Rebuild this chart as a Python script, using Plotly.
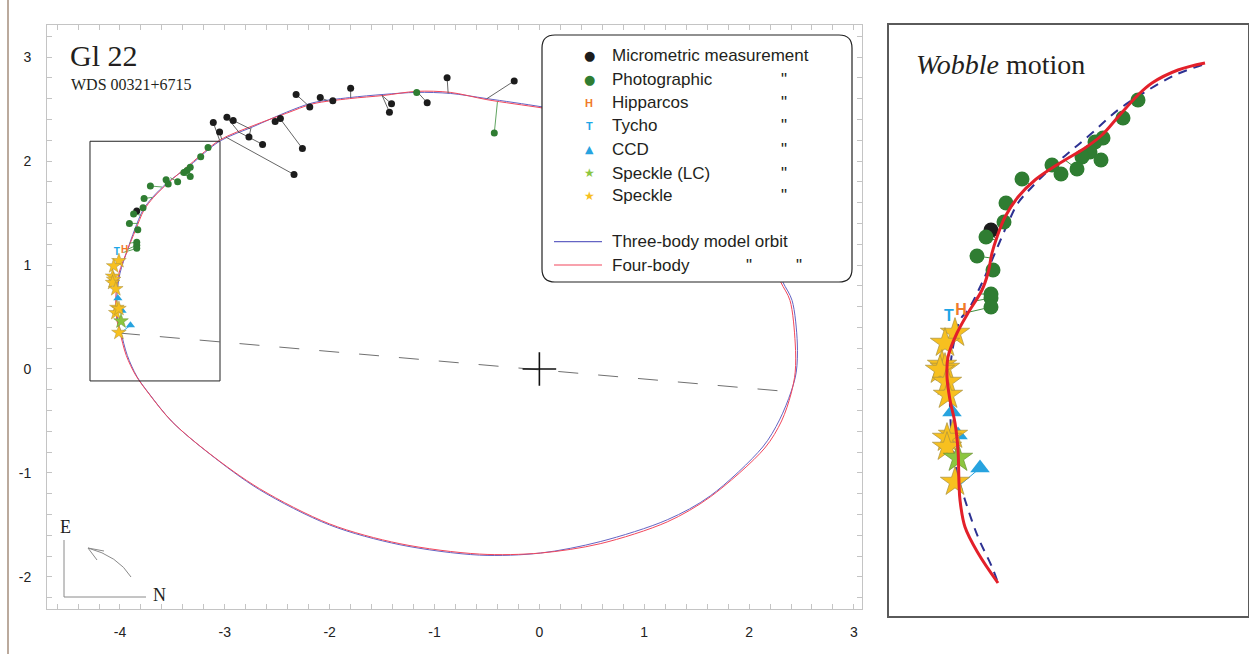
import plotly.graph_objects as go

W, H = 1249, 654


def PX(p):
    return p / W


def PY(p):
    return 1 - p / H


# ---------------- main panel data (arcsec) ----------------
orbit3_x = [-3.99, -4.02, -4.03, -4.00, -3.93, -3.86, -3.78, -3.69, -3.55, -3.33, -3.05, -2.73, -2.41,
            -2.16, -1.81, -1.49, -1.17, -0.85, -0.50, 0.03, 0.58, 1.06, 1.53, 1.91, 2.15, 2.32, 2.41,
            2.46, 2.45, 2.40, 2.29, 2.13, 1.63, 1.22, 0.58, 0.01, -0.57, -1.33, -2.00, -2.67, -3.14,
            -3.50, -3.72, -3.84, -3.93, -3.99]
orbit3_y = [0.35, 0.47, 0.69, 0.92, 1.14, 1.34, 1.53, 1.65, 1.79, 1.96, 2.19, 2.33, 2.47, 2.56, 2.61,
            2.64, 2.66, 2.65, 2.60, 2.52, 2.42, 2.28, 2.01, 1.63, 1.24, 0.84, 0.66, 0.25, -0.03, -0.22,
            -0.49, -0.75, -1.22, -1.45, -1.66, -1.77, -1.79, -1.69, -1.50, -1.16, -0.82, -0.51, -0.24,
            -0.07, 0.13, 0.35]
orbit4_x = [-4.00, -4.03, -4.04, -4.01, -3.93, -3.85, -3.77, -3.68, -3.54, -3.33, -3.05, -2.73, -2.41,
            -2.16, -1.81, -1.49, -1.17, -0.85, -0.50, 0.03, 0.58, 1.06, 1.53, 1.91, 2.14, 2.30, 2.39,
            2.44, 2.44, 2.40, 2.31, 2.15, 1.63, 1.22, 0.58, 0.01, -0.57, -1.33, -2.00, -2.67, -3.15,
            -3.51, -3.73, -3.85, -3.94, -4.00]
orbit4_y = [0.35, 0.47, 0.69, 0.92, 1.14, 1.34, 1.53, 1.65, 1.79, 1.97, 2.20, 2.34, 2.46, 2.55, 2.60,
            2.63, 2.67, 2.66, 2.59, 2.51, 2.42, 2.28, 2.01, 1.63, 1.24, 0.84, 0.66, 0.25, -0.03, -0.24,
            -0.50, -0.76, -1.23, -1.47, -1.68, -1.77, -1.78, -1.68, -1.49, -1.15, -0.81, -0.50, -0.23,
            -0.06, 0.13, 0.35]

apsides_x = [-4.00, 2.40]
apsides_y = [0.345, -0.22]
primary_x = [0.0]
primary_y = [0.0]
zoom_box = dict(x0=-4.286, x1=-3.046, y0=-0.115, y1=2.19)

micro_x = [-3.11, -3.05, -2.98, -2.92, -2.77, -2.64, -2.52, -2.47, -2.26, -2.34, -2.32, -2.19, -2.09,
           -1.97, -1.80, -1.41, -1.43, -1.07, -0.88, -0.24, -3.84]
micro_y = [2.37, 2.28, 2.42, 2.39, 2.23, 2.16, 2.38, 2.41, 2.12, 1.87, 2.64, 2.52, 2.61, 2.58, 2.70,
           2.55, 2.47, 2.56, 2.80, 2.77, 1.52]
micro_cx = [-3.05, -3.03, -2.86, -2.76, -2.75, -2.87, -2.52, -2.48, -2.49, -2.99, -2.20, -2.19, -2.02,
            -1.96, -1.80, -1.50, -1.50, -1.16, -0.87, -0.50, -3.81]
micro_cy = [2.20, 2.21, 2.27, 2.31, 2.32, 2.28, 2.41, 2.43, 2.43, 2.23, 2.53, 2.53, 2.58, 2.59, 2.61,
            2.63, 2.63, 2.66, 2.65, 2.60, 1.51]

photo_x = [-3.16, -3.23, -3.33, -3.36, -3.39, -3.45, -3.33, -3.54, -3.56, -3.71, -3.77, -3.78, -3.87,
           -3.91, -3.83, -3.84, -3.84, -3.84, -1.17, -0.43]
photo_y = [2.13, 2.04, 1.94, 1.91, 1.89, 1.80, 1.85, 1.78, 1.82, 1.76, 1.64, 1.55, 1.49, 1.40, 1.34,
           1.22, 1.19, 1.16, 2.66, 2.27]
photo_cx = [-3.14, -3.24, -3.35, -3.38, -3.42, -3.52, -3.43, -3.56, -3.54, -3.60, -3.69, -3.76, -3.80,
            -3.83, -3.86, -3.91, -3.93, -3.97, -1.17, -0.40]
photo_cy = [2.13, 2.03, 1.94, 1.91, 1.89, 1.84, 1.88, 1.80, 1.81, 1.75, 1.65, 1.56, 1.48, 1.40, 1.34,
            1.21, 1.15, 1.12, 2.66, 2.57]

hipp_x, hipp_y = [-3.955], [1.14]
tycho_x, tycho_y = [-4.03], [1.12]

ccd_x = [-4.02, -3.98, -3.90]
ccd_y = [0.68, 0.56, 0.42]
ccd_cx = [-4.02, -3.99, -3.99]
ccd_cy = [0.68, 0.56, 0.35]

speckle_lc_x, speckle_lc_y = [-3.99], [0.46]
speckle_x = [-4.01, -4.06, -4.07, -4.06, -4.07, -4.04, -4.03, -4.04, -4.01, -4.01]
speckle_y = [1.04, 0.99, 0.89, 0.86, 0.83, 0.77, 0.59, 0.54, 0.58, 0.35]

x_ticks = [-4, -3, -2, -1, 0, 1, 2, 3]
x_tick_labels = ["-4", "-3", "-2", "-1", "0", "1", "2", "3"]
y_ticks = [-2, -1, 0, 1, 2, 3]
y_tick_labels = ["-2", "-1", "0", "1", "2", "3"]

# ---------------- wobble panel data (magnified units) ----------------
wob4_x = [3.16, 2.89, 2.63, 2.49, 2.29, 2.13, 1.96, 1.76, 1.63, 1.46, 1.29, 1.16, 1.08, 1.03, 0.99,
          0.93, 0.79, 0.68, 0.59, 0.58, 0.61, 0.66, 0.69, 0.70, 0.71, 0.76, 0.89, 1.09]
wob4_y = [5.53, 5.46, 5.33, 5.21, 4.99, 4.81, 4.68, 4.56, 4.48, 4.36, 4.19, 3.99, 3.79, 3.63, 3.43,
          3.26, 3.03, 2.83, 2.59, 2.39, 2.16, 1.93, 1.66, 1.33, 1.16, 0.89, 0.63, 0.33]
wob3_x = [3.13, 2.86, 2.56, 2.29, 2.03, 1.83, 1.63, 1.43, 1.29, 1.19, 1.06, 0.93, 0.79, 0.71, 0.64,
          0.61, 0.61, 0.63, 0.68, 0.76, 0.89, 1.03, 1.08]
wob3_y = [5.51, 5.41, 5.24, 5.06, 4.83, 4.66, 4.49, 4.29, 4.13, 3.93, 3.63, 3.33, 3.06, 2.96, 2.69,
          2.43, 2.09, 1.76, 1.43, 1.16, 0.79, 0.49, 0.36]

wob_photo_x = [2.49, 2.34, 2.14, 2.06, 2.01, 1.93, 2.12, 1.88, 1.72, 1.63, 1.33, 1.17, 1.15, 0.97,
               0.88, 1.04, 1.02, 1.02, 1.02]
wob_photo_y = [5.16, 4.98, 4.78, 4.74, 4.64, 4.59, 4.56, 4.47, 4.42, 4.51, 4.37, 4.13, 3.94, 3.79,
               3.60, 3.46, 3.22, 3.18, 3.09]
wob_photo_cx = [2.49, 2.30, 2.13, 2.00, 1.93, 1.86, 1.96, 1.76, 1.63, 1.60, 1.40, 1.22, 1.10, 1.06,
                1.02, 0.99, 0.90, 0.86, 0.76]
wob_photo_cy = [5.21, 5.00, 4.81, 4.71, 4.64, 4.60, 4.68, 4.56, 4.48, 4.46, 4.32, 4.10, 3.90, 3.76,
                3.58, 3.43, 3.22, 3.15, 3.03]
wob_micro_x, wob_micro_y = [1.02], [3.86]
wob_micro_cx, wob_micro_cy = [1.06], [3.78]
wob_hipp_x, wob_hipp_y = [0.72], [3.05]
wob_tycho_x, wob_tycho_y = [0.60], [2.99]
wob_ccd_x = [0.63, 0.69, 0.91]
wob_ccd_y = [2.04, 1.81, 1.48]
wob_ccd_cx = [0.63, 0.69, 0.71]
wob_ccd_cy = [2.04, 1.81, 1.31]
wob_lc_x, wob_lc_y = [0.69], [1.58]
wob_speckle_x = [0.66, 0.56, 0.53, 0.56, 0.51, 0.58, 0.59, 0.64, 0.58, 0.58, 0.66]
wob_speckle_y = [2.83, 2.73, 2.51, 2.48, 2.46, 2.34, 2.21, 1.81, 1.78, 1.69, 1.34]

# ---------------- colours ----------------
C_BLACK = "#1c1c1c"
C_GREEN = "#2f7d32"
C_HIPP = "#f07a2a"
C_TYCHO = "#1ea6e6"
C_CCD = "#27a3df"
C_LC = "#8cc63f"
C_SPK = "#f7c01f"
C_BLUE = "#6464c4"
C_RED = "#f2475c"
C_TEXT = "#231f20"


def segments(ox, oy, cx, cy):
    xs, ys = [], []
    for a, b, c, d in zip(ox, oy, cx, cy):
        xs += [a, c, None]
        ys += [b, d, None]
    return xs, ys


fig = go.Figure()

# ---- main panel ----
fig.add_trace(go.Scatter(x=orbit3_x, y=orbit3_y, mode="lines", name="Three-body model orbit",
                         line=dict(color=C_BLUE, width=1, shape="spline", smoothing=0.9)))
fig.add_trace(go.Scatter(x=orbit4_x, y=orbit4_y, mode="lines", name="Four-body model orbit",
                         line=dict(color=C_RED, width=1, shape="spline", smoothing=0.9)))
fig.add_trace(go.Scatter(x=apsides_x, y=apsides_y, mode="lines", name="line of apsides",
                         line=dict(color="#707070", width=1, dash="20px,20px")))

sx, sy = segments(micro_x, micro_y, micro_cx, micro_cy)
fig.add_trace(go.Scatter(x=sx, y=sy, mode="lines", line=dict(color="#555555", width=0.9),
                         name="micrometric residuals", hoverinfo="skip"))
sx, sy = segments(photo_x, photo_y, photo_cx, photo_cy)
fig.add_trace(go.Scatter(x=sx, y=sy, mode="lines", line=dict(color="#4e9a4e", width=0.9),
                         name="photographic residuals", hoverinfo="skip"))
sx, sy = segments(ccd_x, ccd_y, ccd_cx, ccd_cy)
fig.add_trace(go.Scatter(x=sx, y=sy, mode="lines", line=dict(color=C_CCD, width=0.9),
                         name="CCD residuals", hoverinfo="skip"))

fig.add_trace(go.Scatter(x=micro_x, y=micro_y, mode="markers", name="Micrometric measurement",
                         marker=dict(color=C_BLACK, size=7)))
fig.add_trace(go.Scatter(x=photo_x, y=photo_y, mode="markers", name="Photographic",
                         marker=dict(color=C_GREEN, size=7)))
fig.add_trace(go.Scatter(x=tycho_x, y=tycho_y, mode="text", text=["T"], name="Tycho",
                         textfont=dict(color=C_TYCHO, size=10, family="Liberation Sans", weight="bold")))
fig.add_trace(go.Scatter(x=hipp_x, y=hipp_y, mode="text", text=["H"], name="Hipparcos",
                         textfont=dict(color=C_HIPP, size=10, family="Liberation Sans", weight="bold")))
fig.add_trace(go.Scatter(x=ccd_x, y=ccd_y, mode="markers", name="CCD",
                         marker=dict(color=C_CCD, size=8, symbol="triangle-up")))
fig.add_trace(go.Scatter(x=speckle_x, y=speckle_y, mode="markers", name="Speckle",
                         marker=dict(color=C_SPK, size=11, symbol="star",
                                     line=dict(color="#a89040", width=0.5))))
fig.add_trace(go.Scatter(x=speckle_lc_x, y=speckle_lc_y, mode="markers", name="Speckle (LC)",
                         marker=dict(color=C_LC, size=11, symbol="star",
                                     line=dict(color="#6a9030", width=0.5))))
fig.add_trace(go.Scatter(x=primary_x, y=primary_y, mode="markers", name="Primary",
                         marker=dict(symbol="cross-thin", size=24, line=dict(color="#111111", width=1.6))))

# ---- wobble panel ----
XA2 = dict(xaxis="x2", yaxis="y2")
fig.add_trace(go.Scatter(x=wob3_x, y=wob3_y, mode="lines", name="Three-body (wobble)",
                         line=dict(color="#2d3192", width=2, dash="9px,7px", shape="spline"), **XA2))
sx, sy = segments(wob_photo_x, wob_photo_y, wob_photo_cx, wob_photo_cy)
fig.add_trace(go.Scatter(x=sx, y=sy, mode="lines", line=dict(color="#3f8f3f", width=1),
                         hoverinfo="skip", **XA2))
sx, sy = segments(wob_micro_x, wob_micro_y, wob_micro_cx, wob_micro_cy)
fig.add_trace(go.Scatter(x=sx, y=sy, mode="lines", line=dict(color="#444444", width=1),
                         hoverinfo="skip", **XA2))
sx, sy = segments(wob_ccd_x, wob_ccd_y, wob_ccd_cx, wob_ccd_cy)
fig.add_trace(go.Scatter(x=sx, y=sy, mode="lines", line=dict(color=C_CCD, width=1),
                         hoverinfo="skip", **XA2))
fig.add_trace(go.Scatter(x=wob_micro_x, y=wob_micro_y, mode="markers",
                         marker=dict(color=C_BLACK, size=15), **XA2))
fig.add_trace(go.Scatter(x=wob_photo_x, y=wob_photo_y, mode="markers",
                         marker=dict(color=C_GREEN, size=15), **XA2))
fig.add_trace(go.Scatter(x=wob_tycho_x, y=wob_tycho_y, mode="text", text=["T"],
                         textfont=dict(color=C_TYCHO, size=16, family="Liberation Sans", weight="bold"),
                         **XA2))
fig.add_trace(go.Scatter(x=wob_hipp_x, y=wob_hipp_y, mode="text", text=["H"],
                         textfont=dict(color=C_HIPP, size=16, family="Liberation Sans", weight="bold"),
                         **XA2))
fig.add_trace(go.Scatter(x=wob_ccd_x, y=wob_ccd_y, mode="markers",
                         marker=dict(color=C_CCD, size=17, symbol="triangle-up"), **XA2))
fig.add_trace(go.Scatter(x=wob_speckle_x, y=wob_speckle_y, mode="markers",
                         marker=dict(color=C_SPK, size=22, symbol="star",
                                     line=dict(color="#a89040", width=0.7)), **XA2))
fig.add_trace(go.Scatter(x=wob_lc_x, y=wob_lc_y, mode="markers",
                         marker=dict(color=C_LC, size=22, symbol="star",
                                     line=dict(color="#6a9030", width=0.7)), **XA2))
fig.add_trace(go.Scatter(x=wob4_x, y=wob4_y, mode="lines", name="Four-body (wobble)",
                         line=dict(color="#e3202a", width=3, shape="spline"), **XA2))

# ---------------- axes ----------------
AX_GREY = "#c4c4c4"
tickfont = dict(family="Liberation Sans", size=14, color="#222222")
fig.update_layout(
    width=W, height=H, autosize=False,
    margin=dict(l=0, r=0, t=0, b=0),
    paper_bgcolor="white", plot_bgcolor="white",
    showlegend=False,
    xaxis=dict(domain=[PX(47), PX(862)], range=[-4.696, 3.077], tickmode="array",
               tickvals=x_ticks, ticktext=x_tick_labels, ticks="inside", ticklen=5,
               tickcolor=AX_GREY, showline=True, linecolor=AX_GREY, linewidth=1, mirror="ticks",
               showgrid=False, zeroline=False, tickfont=tickfont, ticklabelstandoff=10,
               minor=dict(tickmode="linear", tick0=0, dtick=0.2, ticks="inside", ticklen=5,
                          tickcolor=AX_GREY, showgrid=False)),
    yaxis=dict(domain=[PY(609), PY(25)], range=[-2.308, 3.308], tickmode="array",
               tickvals=y_ticks, ticktext=y_tick_labels, ticks="inside", ticklen=5,
               tickcolor=AX_GREY, showline=True, linecolor=AX_GREY, linewidth=1, mirror="ticks",
               showgrid=False, zeroline=False, tickfont=tickfont, ticklabelstandoff=12,
               minor=dict(tickmode="linear", tick0=0, dtick=0.2, ticks="inside", ticklen=5,
                          tickcolor=AX_GREY, showgrid=False)),
    xaxis2=dict(domain=[PX(889), PX(1248)], range=[0, 3.59], showline=True, linecolor="#5a5a5a",
                linewidth=1.5, mirror=True, ticks="", showticklabels=False, showgrid=False,
                zeroline=False, anchor="y2"),
    yaxis2=dict(domain=[PY(616), PY(25)], range=[0, 5.91], showline=True, linecolor="#5a5a5a",
                linewidth=1.5, mirror=True, ticks="", showticklabels=False, showgrid=False,
                zeroline=False, anchor="x2"),
)

# ---------------- shapes ----------------
shapes = []
# page margin rule at far left
shapes.append(dict(type="line", xref="paper", yref="paper", x0=PX(8), x1=PX(8), y0=0, y1=1,
                   line=dict(color="#a48e7c", width=1.5)))
# zoom box
shapes.append(dict(type="rect", xref="x", yref="y", line=dict(color="#222222", width=1),
                   fillcolor="rgba(0,0,0,0)", **zoom_box))
# compass
shapes.append(dict(type="line", xref="paper", yref="paper", x0=PX(64), x1=PX(64), y0=PY(540),
                   y1=PY(597), line=dict(color="#8a8a8a", width=1)))
shapes.append(dict(type="line", xref="paper", yref="paper", x0=PX(64), x1=PX(146), y0=PY(597),
                   y1=PY(597), line=dict(color="#8a8a8a", width=1)))
shapes.append(dict(type="path", xref="paper", yref="paper",
                   path=f"M {PX(131)},{PY(577)} Q {PX(118)},{PY(556)} {PX(88)},{PY(548)}",
                   line=dict(color="#8a8a8a", width=1)))
shapes.append(dict(type="path", xref="paper", yref="paper",
                   path=f"M {PX(104)},{PY(551)} L {PX(88)},{PY(548)} L {PX(97)},{PY(560)}",
                   line=dict(color="#8a8a8a", width=1)))

# legend box (rounded)
L, R, T, B, r = 542, 852, 35, 282, 13
path = (f"M {PX(L + r)},{PY(T)} L {PX(R - r)},{PY(T)} Q {PX(R)},{PY(T)} {PX(R)},{PY(T + r)} "
        f"L {PX(R)},{PY(B - r)} Q {PX(R)},{PY(B)} {PX(R - r)},{PY(B)} "
        f"L {PX(L + r)},{PY(B)} Q {PX(L)},{PY(B)} {PX(L)},{PY(B - r)} "
        f"L {PX(L)},{PY(T + r)} Q {PX(L)},{PY(T)} {PX(L + r)},{PY(T)} Z")
shapes.append(dict(type="path", xref="paper", yref="paper", path=path, layer="above",
                   fillcolor="white", line=dict(color="#222222", width=1.2)))
shapes.append(dict(type="line", xref="paper", yref="paper", layer="above", x0=PX(554), x1=PX(602),
                   y0=PY(241.7), y1=PY(241.7), line=dict(color=C_BLUE, width=1.2)))
shapes.append(dict(type="line", xref="paper", yref="paper", layer="above", x0=PX(554), x1=PX(602),
                   y0=PY(265), y1=PY(265), line=dict(color=C_RED, width=1.2)))
fig.update_layout(shapes=shapes)

# ---------------- annotations ----------------
ann = []


def text(x, y, s, size, family="Liberation Sans", color=C_TEXT, xanchor="left"):
    ann.append(dict(xref="paper", yref="paper", x=PX(x), y=PY(y), text=s, showarrow=False,
                    xanchor=xanchor, yanchor="middle", font=dict(family=family, size=size, color=color)))


text(68, 55, "Gl 22", 30, family="Liberation Serif")
text(69, 85, "WDS 00321+6715", 16, family="Liberation Serif")
text(914, 64, "<i>Wobble</i> motion", 28, family="Liberation Serif")
text(65, 527, "E", 18, family="Liberation Serif", xanchor="center")
text(159, 595, "N", 18, family="Liberation Serif", xanchor="center")

legend_rows = [55, 80, 102.7, 126, 149, 173.3, 195.7]
legend_labels = ["Micrometric measurement", "Photographic", "Hipparcos", "Tycho", "CCD",
                 "Speckle (LC)", "Speckle"]
legend_symbols = [("●", C_BLACK, 13, "DejaVu Sans"), ("●", C_GREEN, 13, "DejaVu Sans"),
                  ("<b>H</b>", C_HIPP, 11, "Liberation Sans"), ("<b>T</b>", C_TYCHO, 11, "Liberation Sans"),
                  ("▲", C_CCD, 11, "DejaVu Sans"), ("★", C_LC, 12, "DejaVu Sans"),
                  ("★", C_SPK, 12, "DejaVu Sans")]
for i, (yy, lab, sym) in enumerate(zip(legend_rows, legend_labels, legend_symbols)):
    text(589, yy, sym[0], sym[2], family=sym[3], color=sym[1], xanchor="center")
    text(610, yy, lab, 17)
    if i > 0:
        text(784, yy, '"', 17, xanchor="center")
text(610, 241.7, "Three-body model orbit", 17)
text(610, 265, "Four-body", 17)
text(749, 265, '"', 17, xanchor="center")
text(799, 265, '"', 17, xanchor="center")
fig.update_layout(annotations=ann)

fig.write_html("out.html")
